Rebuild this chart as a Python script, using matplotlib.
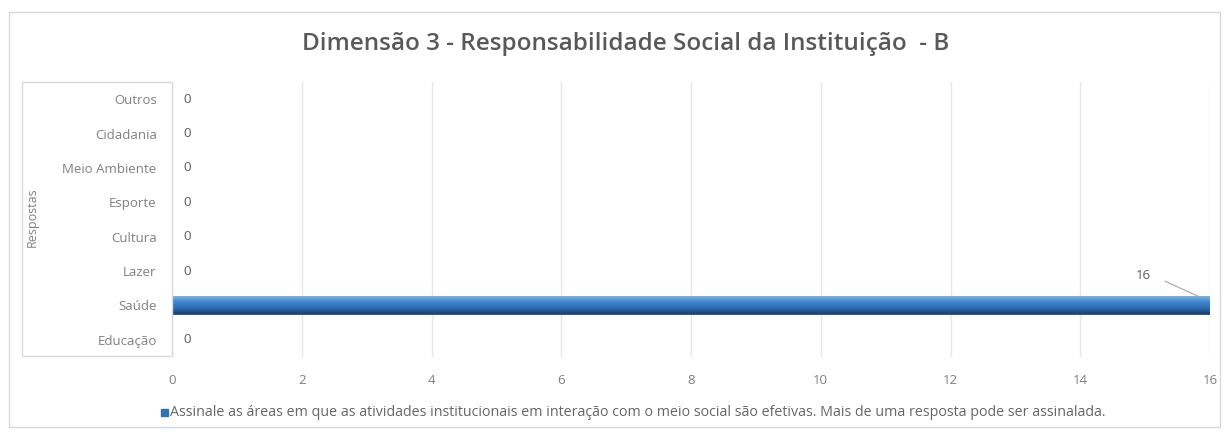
import numpy as np
import matplotlib.pyplot as plt
from matplotlib.colors import LinearSegmentedColormap
from matplotlib.patches import Rectangle

categories = ['Educação', 'Saúde', 'Lazer', 'Cultura', 'Esporte',
              'Meio Ambiente', 'Cidadania', 'Outros']
values = [0, 16, 0, 0, 0, 0, 0, 0]
series_name = ('Assinale as áreas em que as atividades institucionais em interação '
               'com o meio social são efetivas. Mais de uma resposta pode ser assinalada.')
title = 'Dimensão 3 - Responsabilidade Social da Instituição  - B'

plt.rcParams['font.family'] = ['Open Sans', 'DejaVu Sans']

W, H = 1226, 432
fig = plt.figure(figsize=(W / 100, H / 100), dpi=100)
ax = fig.add_axes([172 / W, 1 - 357 / H, (1210 - 172) / W, (357 - 82) / H])

y = list(range(len(categories)))
bars = ax.barh(y, values, height=0.52, color='#2e75b6', edgecolor='#1f4e79',
               linewidth=0.6, zorder=3)

# gradient fill like the original (light top, dark bottom)
cmap = LinearSegmentedColormap.from_list('bar', ['#1f3f6e', '#2e6db4', '#3d85cc', '#7fb2e5'])
grad = np.linspace(0, 1, 64).reshape(-1, 1)
for b in bars:
    if b.get_width() > 0:
        x0, y0, w, h = b.get_x(), b.get_y(), b.get_width(), b.get_height()
        ax.imshow(grad, cmap=cmap, aspect='auto', origin='lower',
                  extent=(x0, x0 + w, y0, y0 + h), zorder=4)

ax.set_xlim(0, 16)
ax.set_ylim(-0.5, 7.5)
ax.set_xticks(range(0, 17, 2))
ax.set_yticks(y)
ax.set_yticklabels(categories)
ax.tick_params(axis='both', length=0, colors='#808080', labelsize=9.5)
ax.tick_params(axis='y', pad=11)
ax.tick_params(axis='x', pad=12)
ax.grid(axis='x', color='#e6e6e6', linewidth=1, zorder=0)
for s in ax.spines.values():
    s.set_visible(False)

# value labels
for yi, v in zip(y, values):
    if v == 0:
        ax.text(0.23, yi, '0', va='center', ha='center', fontsize=9.5, color='#595959')
ax.annotate('16', xy=(15.85, 1.24), xytext=(14.97, 1.86), fontsize=9.5, color='#595959',
            va='center', ha='center',
            arrowprops=dict(arrowstyle='-', color='#a6a6a6', lw=0.8, shrinkA=9,
                            connectionstyle='arc,angleA=0,angleB=135,armA=10,armB=0,rad=0'))

# box around category labels
fig.patches.append(Rectangle((22 / W, 1 - 356 / H), (172 - 22) / W, (356 - 82) / H,
                             transform=fig.transFigure, fill=False,
                             edgecolor='#d9d9d9', linewidth=1))
fig.text(32 / W, 1 - 217 / H, 'Respostas', rotation=90, ha='center', va='center',
         fontsize=9, color='#808080')

# outer chart border
fig.patches.append(Rectangle((9 / W, 1 - 427 / H), 1211 / W, 415 / H,
                             transform=fig.transFigure, fill=False,
                             edgecolor='#d9d9d9', linewidth=1))

fig.text(626 / W, 1 - 44 / H, title, ha='center', va='center',
         fontsize=17.5, color='#595959', fontweight='semibold')

# legend
fig.patches.append(Rectangle((161 / W, 1 - 416 / H), 7 / W, 7 / H,
                             transform=fig.transFigure, color='#2e75b6'))
fig.text(170 / W, 1 - 412 / H, series_name, ha='left', va='center',
         fontsize=10.3, color='#666666')

plt.savefig('out.png', dpi=100)
